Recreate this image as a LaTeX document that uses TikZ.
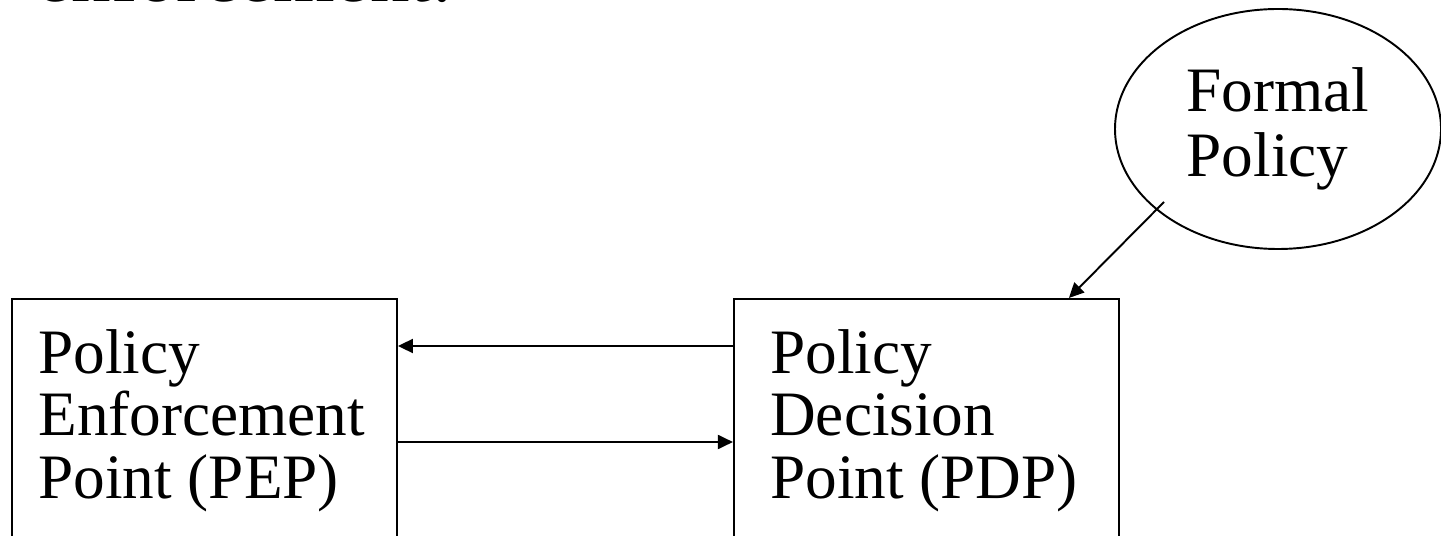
\documentclass[tikz,border=0pt]{standalone}
\usepackage{fontspec}
\setmainfont{Liberation Serif}
\usepackage{tikz}
\usetikzlibrary{shapes.geometric, arrows.meta, positioning}

\begin{document}
\begin{tikzpicture}[
  point/.style={rectangle, draw, line width=1.1pt, minimum width=7.7cm, minimum height=6cm, inner sep=0pt},
  ptext/.style={anchor=north west, align=left, inner sep=0pt, font=\fontsize{36}{35.6}\selectfont},
  policy/.style={ellipse, draw, line width=1.1pt, minimum width=6.52cm, minimum height=4.8cm, align=left, font=\fontsize{36}{37}\selectfont},
  arrow/.style={-{Triangle[length=0.3cm, width=0.28cm]}, line width=1.1pt}
]
\clip[use as bounding box] (0,0) rectangle (28.82,-10.72);

% Cut-off heading
\node[anchor=base west, inner sep=0pt, font=\fontsize{45}{54}\selectfont] (head) at (0.72,-0.03) {enforcement:};

% Nodes
\node[point, anchor=north west] (pep) at (0.22,-5.96) {};
\node[point, right=6.7cm of pep] (pdp) {};
\node[policy] (fp) at (25.56,-2.58) {Formal\\Policy};

% Box texts
\node[ptext] (peptext) at ([xshift=0.54cm, yshift=-0.62cm]pep.north west) {Policy\\Enforcement\\Point (PEP)};
\node[ptext] (pdptext) at ([xshift=0.74cm, yshift=-0.62cm]pdp.north west) {Policy\\Decision\\Point (PDP)};

% Arrows between the boxes
\draw[arrow] ([yshift=-0.96cm]pdp.north west) -- ([yshift=-0.96cm]pep.north east);
\draw[arrow] ([yshift=-2.88cm]pep.north east) -- ([yshift=-2.88cm]pdp.north west);

% Policy into the PDP
\draw[arrow] ([shift={(-2.28,-1.46)}]fp.center) -- ([xshift=-1.02cm]pdp.north east);

\end{tikzpicture}
\end{document}
